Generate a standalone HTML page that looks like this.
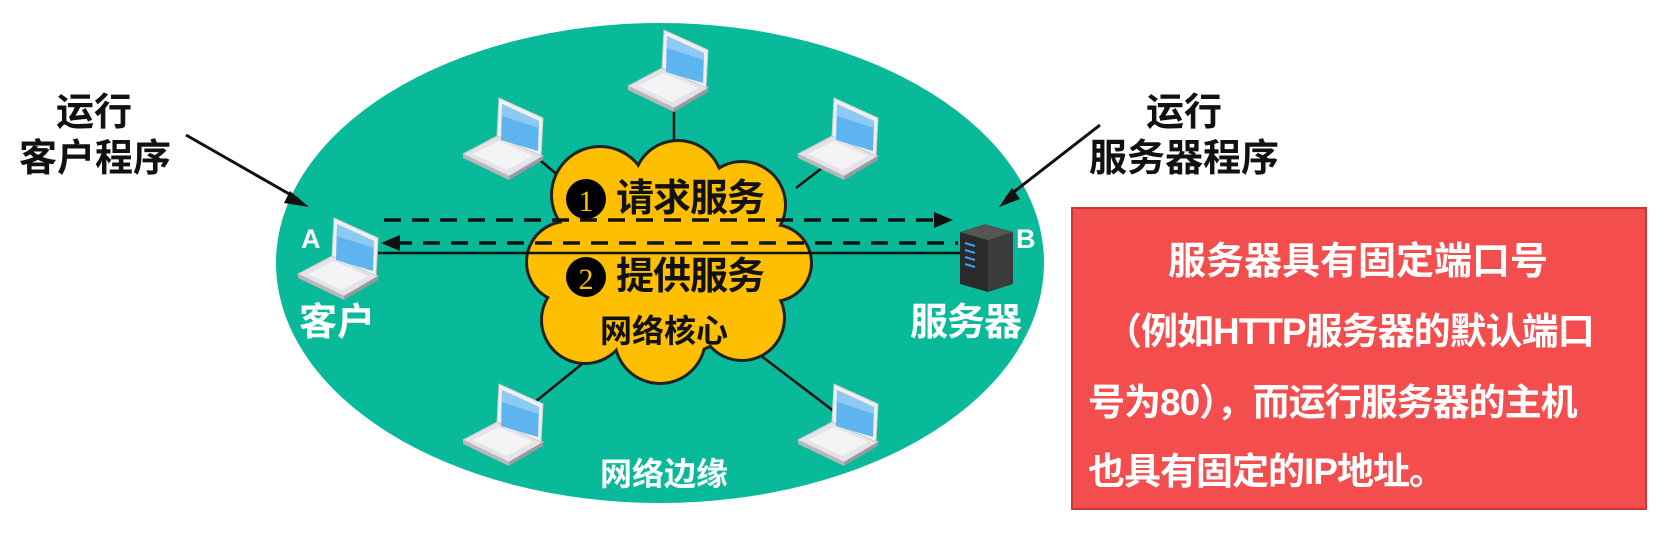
<!DOCTYPE html>
<html><head><meta charset="utf-8"><style>
html,body{margin:0;padding:0;background:#fff;}
body{width:1670px;height:536px;overflow:hidden;position:relative;font-family:"Liberation Sans","Noto Sans CJK SC",sans-serif;}
.t{position:absolute;font-weight:bold;white-space:nowrap;line-height:1;}
</style></head><body>
<svg width="1670" height="536" style="position:absolute;left:0;top:0">
<defs>
<g id="lap">
<polygon points="0,56 34,38 80,58 46,78" fill="#e4e4e8" stroke="#c8c8cc" stroke-width="1"/>
<polygon points="0,56 46,78 46,82 0,60" fill="#b8b8bc"/>
<polygon points="46,78 80,58 80,62 46,82" fill="#9a9aa0"/>
<polygon points="10,56 36,43 70,58 44,72" fill="#f4f4f6"/>
<polygon points="34,38 36,0 80,20 78,58" fill="#f0f0f2" stroke="#ccc" stroke-width="1"/>
<polygon points="38,42 39,6 76,23 75,53" fill="#5db4ef"/>
<polygon points="39,6 76,23 76,30 39,18" fill="#8ccaf4"/>
</g>
</defs>
<ellipse cx="660" cy="263" rx="384" ry="240" fill="#08b99a"/>
<!-- spokes -->
<g stroke="#111" stroke-width="2.5">
<line x1="674" y1="108" x2="674" y2="160"/>
<line x1="535" y1="156" x2="566" y2="182"/>
<line x1="535" y1="402" x2="582" y2="364"/>
<line x1="796" y1="188" x2="822" y2="168"/>
<line x1="756" y1="352" x2="835" y2="412"/>
</g>
<!-- cloud -->
<g fill="#222">
<circle cx="600" cy="195" r="50"/><circle cx="678" cy="185" r="46"/><circle cx="742" cy="205" r="45"/>
<circle cx="567" cy="262" r="42"/><circle cx="773" cy="263" r="40"/><circle cx="585" cy="320" r="45"/>
<circle cx="660" cy="338" r="47"/><circle cx="742" cy="318" r="44"/><circle cx="670" cy="262" r="95"/>
</g>
<g fill="#fdbf00">
<circle cx="600" cy="195" r="47"/><circle cx="678" cy="185" r="43"/><circle cx="742" cy="205" r="42"/>
<circle cx="567" cy="262" r="39"/><circle cx="773" cy="263" r="37"/><circle cx="585" cy="320" r="42"/>
<circle cx="660" cy="338" r="44"/><circle cx="742" cy="318" r="41"/><circle cx="670" cy="262" r="92"/>
</g>
<!-- lines -->
<line x1="384" y1="220" x2="940" y2="220" stroke="#111" stroke-width="3.5" stroke-dasharray="17,11"/>
<polygon points="953,220 934,212 934,228" fill="#111"/>
<line x1="395" y1="243" x2="958" y2="243" stroke="#111" stroke-width="3.5" stroke-dasharray="17,11"/>
<polygon points="381,243 400,235 400,251" fill="#111"/>
<line x1="378" y1="253" x2="960" y2="253" stroke="#111" stroke-width="2.5"/>
<!-- laptops -->
<use href="#lap" x="628" y="30"/>
<use href="#lap" x="463" y="98"/>
<use href="#lap" x="798" y="98"/>
<use href="#lap" x="463" y="384"/>
<use href="#lap" x="798" y="384"/>
<use href="#lap" x="298" y="218"/>
<!-- server -->
<polygon points="960,232 985,224 1013,232 988,240" fill="#555"/>
<polygon points="960,232 988,240 988,292 960,284" fill="#2a2a2a"/>
<polygon points="988,240 1013,232 1013,284 988,292" fill="#3c3c3c"/>
<g stroke="#3aa0f0" stroke-width="2"><line x1="965" y1="243" x2="975" y2="246"/><line x1="965" y1="250" x2="975" y2="253"/><line x1="965" y1="257" x2="975" y2="260"/><line x1="965" y1="264" x2="975" y2="267"/></g>
<!-- pointer arrows -->
<line x1="186" y1="135" x2="298" y2="199" stroke="#111" stroke-width="3"/>
<polygon points="309,207 290,191 284,203" fill="#111"/>
<line x1="1100" y1="125" x2="1006" y2="198" stroke="#111" stroke-width="3"/>
<polygon points="999,207 1012,188 1020,199" fill="#111"/>
<!-- numbered circles -->
<circle cx="586" cy="199" r="20" fill="#000"/>
<circle cx="586" cy="277" r="20" fill="#000"/>
<text x="586" y="211" font-family="Liberation Serif" font-size="30" fill="#fdbf00" text-anchor="middle">1</text>
<text x="586" y="289" font-family="Liberation Serif" font-size="30" fill="#fdbf00" text-anchor="middle">2</text>
<rect x="1072" y="208" width="574" height="301" fill="#f44d4d" stroke="#c73838" stroke-width="2"/>
</svg>
<div class="t" style="left:616px;top:180px;font-size:38px;color:#111;letter-spacing:-1px">请求服务</div>
<div class="t" style="left:616px;top:258px;font-size:38px;color:#111;letter-spacing:-1px">提供服务</div>
<div class="t" style="left:600px;top:315px;font-size:32px;color:#111;">网络核心</div>
<div class="t" style="left:600px;top:458px;font-size:32px;color:#fff;">网络边缘</div>
<div class="t" style="left:301px;top:226px;font-size:27px;color:#fff;">A</div>
<div class="t" style="left:1016px;top:226px;font-size:27px;color:#fff;">B</div>
<div class="t" style="left:299px;top:304px;font-size:38px;color:#fff;">客户</div>
<div class="t" style="left:910px;top:304px;font-size:38px;color:#fff;letter-spacing:-1px">服务器</div>
<div class="t" style="left:56px;top:94px;font-size:38px;color:#111;">运行</div>
<div class="t" style="left:19px;top:140px;font-size:38px;color:#111;">客户程序</div>
<div class="t" style="left:1146px;top:94px;font-size:38px;color:#111;">运行</div>
<div class="t" style="left:1089px;top:140px;font-size:38px;color:#111;letter-spacing:0px">服务器程序</div>
<div class="t" style="left:1168px;top:243px;font-size:38px;color:#fff;">服务器具有固定端口号</div>
<div class="t" style="left:1105px;top:313px;font-size:37px;color:#fff;letter-spacing:-1px">（例如HTTP服务器的默认端口</div>
<div class="t" style="left:1088px;top:384px;font-size:37px;color:#fff;letter-spacing:-1px">号为80），而运行服务器的主机</div>
<div class="t" style="left:1088px;top:453px;font-size:37px;color:#fff;letter-spacing:-1px">也具有固定的IP地址。</div>
</body></html>
